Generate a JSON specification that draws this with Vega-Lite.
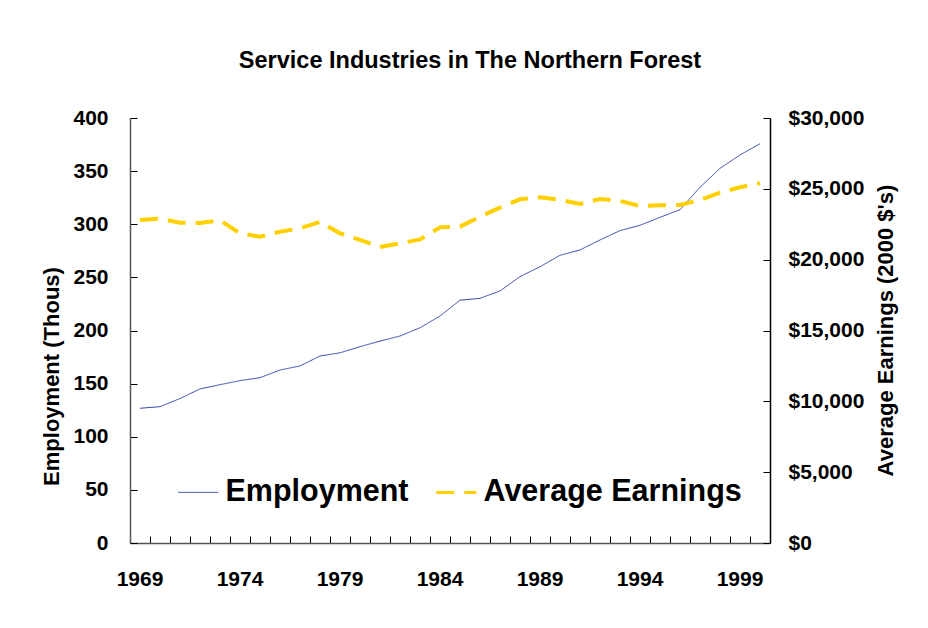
{
  "$schema": "https://vega.github.io/schema/vega-lite/v6.json",
  "width": 640,
  "height": 425,
  "autosize": {"type": "none"},
  "padding": {"left": 130, "top": 118, "right": 158, "bottom": 85},
  "background": "white",
  "title": {
    "text": "Service Industries in The Northern Forest",
    "font": "Liberation Sans",
    "fontSize": 23.5,
    "fontWeight": "bold",
    "color": "black",
    "anchor": "middle",
    "frame": "group",
    "dx": 20,
    "offset": 35
  },
  "config": {
    "view": {"stroke": null},
    "font": "Liberation Sans",
    "axis": {
      "grid": false,
      "labelFont": "Liberation Sans",
      "labelFontSize": 21,
      "labelFontWeight": "bold",
      "labelColor": "black",
      "titleFont": "Liberation Sans",
      "titleFontSize": 22,
      "titleFontWeight": "bold",
      "titleColor": "black",
      "tickColor": "black",
      "tickWidth": 1,
      "tickSize": -7,
      "domainColor": "#555555",
      "domainWidth": 1.5
    },
    "legend": {
      "orient": "none",
      "legendX": 53,
      "legendY": 359,
      "direction": "horizontal",
      "symbolType": "stroke",
      "symbolSize": 1600,
      "labelFont": "Liberation Sans",
      "labelFontSize": 30.5,
      "labelFontWeight": "bold",
      "labelColor": "black",
      "labelOffset": 12,
      "columnPadding": 21,
      "labelLimit": 400
    }
  },
  "data": {
    "values": [
      {"year": 1969, "employment": 126.8, "earnings": 22800},
      {"year": 1970, "employment": 128.3, "earnings": 22890},
      {"year": 1971, "employment": 136.0, "earnings": 22610},
      {"year": 1972, "employment": 145.0, "earnings": 22590},
      {"year": 1973, "employment": 149.0, "earnings": 22780},
      {"year": 1974, "employment": 152.8, "earnings": 21860},
      {"year": 1975, "employment": 155.6, "earnings": 21620},
      {"year": 1976, "employment": 162.8, "earnings": 21970},
      {"year": 1977, "employment": 166.6, "earnings": 22210},
      {"year": 1978, "employment": 176.0, "earnings": 22660},
      {"year": 1979, "employment": 179.0, "earnings": 21860},
      {"year": 1980, "employment": 184.8, "earnings": 21390},
      {"year": 1981, "employment": 190.0, "earnings": 20890},
      {"year": 1982, "employment": 194.8, "earnings": 21150},
      {"year": 1983, "employment": 202.6, "earnings": 21430},
      {"year": 1984, "employment": 213.6, "earnings": 22280},
      {"year": 1985, "employment": 228.5, "earnings": 22330},
      {"year": 1986, "employment": 230.3, "earnings": 23030},
      {"year": 1987, "employment": 237.2, "earnings": 23670},
      {"year": 1988, "employment": 250.7, "earnings": 24260},
      {"year": 1989, "employment": 260.0, "earnings": 24400},
      {"year": 1990, "employment": 270.8, "earnings": 24230},
      {"year": 1991, "employment": 275.8, "earnings": 23930},
      {"year": 1992, "employment": 285.2, "earnings": 24280},
      {"year": 1993, "employment": 294.0, "earnings": 24140},
      {"year": 1994, "employment": 299.0, "earnings": 23790},
      {"year": 1995, "employment": 306.5, "earnings": 23840},
      {"year": 1996, "employment": 313.7, "earnings": 23860},
      {"year": 1997, "employment": 334.8, "earnings": 24210},
      {"year": 1998, "employment": 352.6, "earnings": 24730},
      {"year": 1999, "employment": 365.2, "earnings": 25110},
      {"year": 2000, "employment": 375.8, "earnings": 25390}
    ]
  },
  "encoding": {
    "x": {
      "field": "year",
      "type": "ordinal",
      "bandPosition": 0.5,
      "scale": {"type": "band", "paddingInner": 0, "paddingOuter": 0},
      "axis": {
        "title": null,
        "labelAngle": 0,
        "labelOverlap": false,
        "labelPadding": 32,
        "bandPosition": 0,
        "labelExpr": "(datum.value - 1969) % 5 == 0 ? datum.label : ''"
      }
    }
  },
  "layer": [
    {
      "mark": {"type": "line", "strokeWidth": 1},
      "encoding": {
        "y": {
          "field": "employment",
          "type": "quantitative",
          "scale": {"domain": [0, 400], "nice": false},
          "axis": {
            "title": "Employment (Thous)",
            "values": [0, 50, 100, 150, 200, 250, 300, 350, 400],
            "labelPadding": 29,
            "titleX": -79,
            "titleY": 258,
            "titleAngle": 270,
            "titleAlign": "center",
            "titleBaseline": "middle"
          }
        },
        "color": {
          "datum": "Employment",
          "type": "nominal",
          "scale": {"domain": ["Employment", "Average Earnings"], "range": ["#3344AA", "#FFD000"]},
          "legend": {
            "title": null,
            "encode": {"symbols": {"update": {"strokeWidth": {"signal": "datum.value === 'Employment' ? 1 : 3"}}}}
          }
        },
        "strokeDash": {
          "datum": "Employment",
          "type": "nominal",
          "scale": {"domain": ["Employment", "Average Earnings"], "range": [[1, 0], [18, 10]]},
          "legend": {"title": null}
        }
      }
    },
    {
      "mark": {"type": "line", "strokeWidth": 4},
      "encoding": {
        "y": {
          "field": "earnings",
          "type": "quantitative",
          "scale": {"domain": [0, 30000], "nice": false},
          "axis": {
            "orient": "right",
            "title": "Average Earnings (2000 $'s)",
            "format": "$,.0f",
            "values": [0, 5000, 10000, 15000, 20000, 25000, 30000],
            "labelPadding": 25,
            "domainColor": "black",
            "titleX": 115,
            "titleY": 212,
            "titleAngle": 270,
            "titleAlign": "center",
            "titleBaseline": "middle"
          }
        },
        "color": {"datum": "Average Earnings", "type": "nominal", "legend": {"title": null}},
        "strokeDash": {"datum": "Average Earnings", "type": "nominal", "legend": {"title": null}}
      }
    }
  ],
  "resolve": {"scale": {"y": "independent"}}
}
